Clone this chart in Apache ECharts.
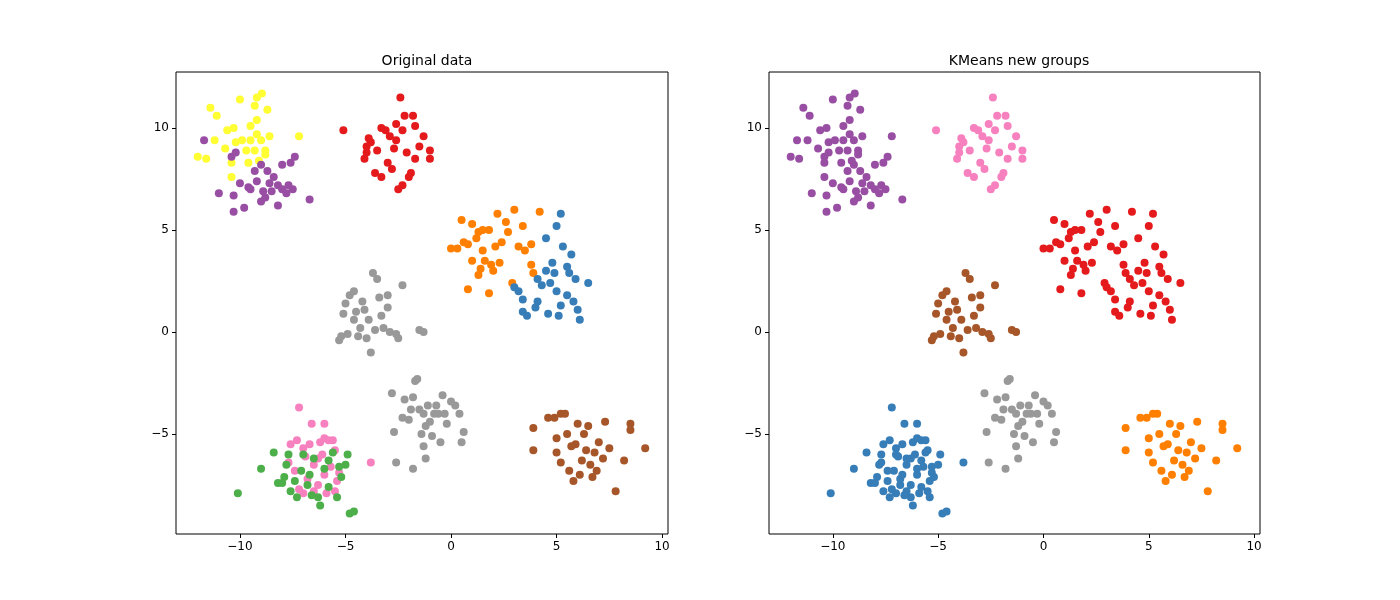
<!DOCTYPE html>
<html><head><meta charset="utf-8">
<script src="https://cdn.jsdelivr.net/npm/echarts@6/dist/echarts.min.js"></script>
<style>html,body{margin:0;padding:0;background:#fff}#c{width:1400px;height:600px}</style>
</head><body><div id="c"></div>
<script>
const yellowPts=[[-11.4,11.0],[-11.1,10.6],[-12.0,8.6],[-11.6,8.5],[-11.2,9.4],[-10.6,9.9],[-10.3,10.0],[-10.2,9.3],[-10.4,8.3],[-10.4,7.6],[-9.7,8.9],[-9.5,10.1],[-9.3,11.1],[-8.96,11.7],[-9.2,11.5],[-8.7,10.9],[-9.2,9.7],[-9.0,9.4],[-9.3,8.9],[-8.8,8.9],[-9.6,8.3],[-9.1,8.4],[-8.6,9.6],[-7.2,9.6],[-9.9,9.4],[-10.7,9.0],[-10.0,11.4],[-9.2,10.4],[-8.8,8.7],[-9.5,9.4]];
const purplePts=[[-11.0,6.8],[-10.3,6.7],[-10.3,5.9],[-9.8,6.1],[-10.0,7.3],[-9.6,7.1],[-9.2,7.4],[-9.0,6.4],[-8.8,6.6],[-8.5,6.9],[-8.2,7.2],[-8.0,7.0],[-7.8,6.8],[-8.4,7.6],[-8.7,7.9],[-9.3,7.9],[-8.0,8.2],[-7.6,8.3],[-7.4,8.6],[-8.2,6.2],[-7.7,7.2],[-6.7,6.5],[-9.5,7.0],[-8.9,6.9],[-10.4,8.6],[-8.6,7.3],[-7.5,7.0],[-11.7,9.4],[-10.2,8.8],[-9.0,8.2]];
const redPts=[[-5.1,9.9],[-4.0,9.1],[-4.1,8.5],[-3.8,9.3],[-3.5,8.9],[-3.6,7.8],[-3.3,7.6],[-3.0,8.3],[-2.9,9.6],[-2.6,10.2],[-2.4,11.5],[-2.2,10.6],[-1.8,10.6],[-1.7,10.1],[-2.7,9.0],[-2.1,8.8],[-1.7,8.5],[-1.5,9.1],[-1.9,7.8],[-2.3,7.2],[-2.5,7.0],[-2.0,7.6],[-1.0,8.9],[-1.0,8.5],[-3.1,9.9],[-3.9,9.5],[-2.8,8.0],[-1.3,9.6],[-2.6,9.4],[-4.0,8.8],[-2.3,9.9],[-3.3,10.0]];
const orangePts=[[0.0,4.1],[0.3,4.1],[0.5,5.5],[0.6,4.4],[0.8,4.3],[1.0,5.3],[1.2,4.6],[1.0,3.5],[0.8,2.1],[1.3,4.9],[1.5,4.0],[1.4,3.1],[1.3,2.8],[1.6,3.5],[1.8,1.9],[1.9,3.3],[2.0,3.0],[2.3,3.4],[1.8,5.0],[2.1,4.2],[2.4,4.4],[2.6,5.4],[2.7,4.9],[3.0,6.0],[3.4,5.2],[3.2,4.2],[3.5,4.0],[3.8,4.3],[3.8,3.3],[3.9,2.9],[4.2,5.9],[2.9,2.4],[2.2,5.8],[1.5,5.0]];
const bluePts=[[3.0,2.2],[3.2,2.0],[3.4,1.6],[3.4,1.0],[3.6,0.8],[4.0,1.2],[4.1,2.6],[4.3,2.3],[4.5,3.0],[4.5,4.6],[4.8,3.4],[4.9,2.9],[5.0,2.0],[5.2,1.3],[5.1,0.8],[4.6,0.9],[5.5,1.8],[5.6,2.9],[5.7,3.8],[5.9,2.6],[5.5,3.2],[6.0,1.1],[6.1,0.6],[6.5,2.4],[5.3,4.2],[5.2,5.8],[5.0,5.2],[4.1,1.5],[5.8,1.5],[4.7,2.4]];
const grayTopPts=[[-5.3,-0.4],[-5.2,-0.2],[-5.1,0.9],[-5.0,1.4],[-4.9,-0.1],[-4.8,1.8],[-4.6,2.0],[-4.6,0.6],[-4.5,1.0],[-4.3,0.2],[-4.2,1.5],[-4.0,-0.3],[-3.8,-1.0],[-3.9,0.6],[-3.7,2.9],[-3.5,2.6],[-3.4,1.7],[-3.3,0.8],[-3.2,0.2],[-3.0,1.2],[-2.9,0.0],[-2.5,-0.3],[-2.6,-0.1],[-2.3,2.3],[-1.5,0.1],[-1.3,0.0],[-4.1,1.1],[-3.6,0.1],[-4.4,-0.2],[-3.0,1.8]];
const grayBotPts=[[-2.8,-3.0],[-2.7,-4.9],[-2.6,-6.4],[-2.2,-3.3],[-2.0,-4.3],[-1.9,-3.8],[-1.8,-3.2],[-1.7,-2.4],[-1.6,-2.3],[-1.5,-3.8],[-1.4,-5.0],[-1.3,-4.0],[-1.2,-4.6],[-1.1,-3.6],[-1.0,-4.4],[-0.9,-5.1],[-0.8,-4.0],[-0.7,-3.6],[-0.6,-4.0],[-0.5,-5.4],[-0.4,-3.1],[-0.3,-4.0],[0.0,-3.4],[0.2,-3.6],[0.4,-4.0],[0.6,-4.9],[0.5,-5.4],[-1.8,-6.7],[-1.3,-5.6],[-2.3,-4.2],[-1.2,-6.2],[-0.2,-4.5]];
const brownPts=[[3.9,-4.7],[3.9,-5.8],[4.6,-4.2],[4.9,-4.2],[5.0,-5.9],[5.2,-6.4],[5.2,-4.0],[5.4,-4.0],[5.5,-5.0],[5.6,-6.8],[5.8,-7.3],[5.9,-5.5],[6.0,-4.5],[6.1,-7.0],[6.2,-6.3],[6.3,-5.0],[6.4,-5.8],[6.5,-4.6],[6.6,-6.5],[6.7,-7.1],[6.8,-5.9],[7.0,-5.4],[7.2,-6.2],[7.3,-4.4],[7.5,-5.7],[7.8,-7.8],[8.2,-6.3],[8.5,-4.5],[8.5,-4.8],[9.2,-5.7],[5.0,-5.2],[5.7,-5.6],[6.9,-6.8]];
const pinkPts=[[-7.2,-3.7],[-7.6,-5.5],[-7.3,-5.3],[-7.0,-5.7],[-6.7,-5.5],[-6.6,-4.5],[-6.0,-4.5],[-5.8,-5.3],[-6.2,-5.4],[-5.5,-5.8],[-6.3,-6.2],[-6.5,-6.5],[-6.9,-6.1],[-7.4,-6.8],[-5.7,-6.6],[-6.0,-7.0],[-6.3,-7.5],[-6.5,-7.8],[-6.8,-7.2],[-7.2,-7.7],[-5.9,-7.9],[-5.5,-7.8],[-5.4,-7.3],[-3.8,-6.4],[-6.1,-6.0],[-7.7,-6.4],[-5.3,-6.9],[-7.0,-7.9],[-6.0,-5.2],[-5.6,-5.3]];
const greenPts=[[-10.1,-7.9],[-9.0,-6.7],[-8.4,-5.9],[-8.2,-7.4],[-7.9,-7.1],[-7.8,-6.5],[-7.6,-7.8],[-7.4,-7.3],[-7.3,-8.1],[-7.1,-6.8],[-7.0,-6.0],[-6.8,-7.5],[-6.7,-7.0],[-6.5,-6.2],[-6.3,-8.1],[-6.2,-8.5],[-6.0,-6.7],[-5.8,-6.3],[-5.6,-5.9],[-5.4,-8.1],[-5.2,-7.1],[-5.0,-6.5],[-4.9,-6.0],[-4.8,-8.9],[-4.6,-8.8],[-5.3,-6.6],[-7.7,-6.0],[-6.6,-8.0],[-8.0,-7.4],[-5.8,-7.6]];
const tickValues=[-10,-5,0,5,10];
const titles=["Original data","KMeans new groups"];
// [points, original colour, kmeans colour]
const clusters=[
 [yellowPts,'#ffff33','#984ea3'],[purplePts,'#984ea3','#984ea3'],[redPts,'#e41a1c','#f781bf'],
 [orangePts,'#ff7f00','#e41a1c'],[bluePts,'#377eb8','#e41a1c'],[grayTopPts,'#999999','#a65628'],
 [grayBotPts,'#999999','#999999'],[brownPts,'#a65628','#ff7f00'],[pinkPts,'#f781bf','#377eb8'],[greenPts,'#4daf4a','#377eb8']];
const fmt=v=>String(v).replace('-','\u2212');
function ax(min,max){return {type:'value',min:min,max:max,splitLine:{show:false},
 axisLine:{show:false,onZero:false},axisTick:{show:true,inside:false,length:4,customValues:tickValues,lineStyle:{color:'#000'}},
 axisLabel:{customValues:tickValues,formatter:fmt,color:'#000',fontSize:12,fontFamily:'DejaVu Sans',margin:7}};}
const grids=[{left:176,width:492,top:72,height:462,show:true,borderColor:'#000',borderWidth:1,backgroundColor:'transparent'},
 {left:769,width:491,top:72,height:462,show:true,borderColor:'#000',borderWidth:1,backgroundColor:'transparent'}];
const series=[];
[0,1].forEach(g=>clusters.forEach(c=>series.push({type:'scatter',xAxisIndex:g,yAxisIndex:g,data:c[0],symbolSize:8,
 itemStyle:{color:c[1+g],opacity:1},emphasis:{disabled:true},silent:true})));
const chart=echarts.init(document.getElementById('c'));
chart.setOption({animation:false,
 title:titles.map((t,i)=>({text:t,left:i?1014:422,top:49,textAlign:'center',textStyle:{fontSize:14,fontWeight:'normal',color:'#000',fontFamily:'DejaVu Sans'}})),
 grid:grids,xAxis:[ax(-13.03,10.28),ax(-13.03,10.28)].map((a,i)=>Object.assign(a,{gridIndex:i,position:'bottom'})),
 yAxis:[ax(-9.9,12.75),ax(-9.9,12.75)].map((a,i)=>Object.assign(a,{gridIndex:i,position:'left'})),series:series});
</script></body></html>
